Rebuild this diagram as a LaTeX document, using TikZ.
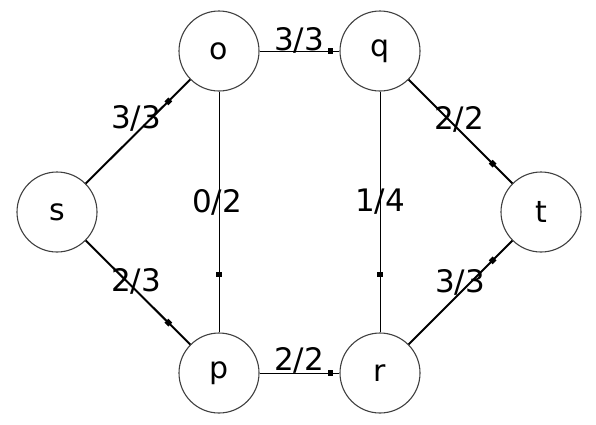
\documentclass[tikz,border=0pt]{standalone}
\usepackage{fontspec}
\setmainfont{DejaVu Sans}
\begin{document}
\begin{tikzpicture}[x=1pt,y=-1pt,
  vert/.style={circle,draw=black!75,line width=1.1pt,minimum size=80pt,inner sep=0pt,font=\fontsize{30}{33}\selectfont},
  thick edge/.style={line width=2pt},
  thin edge/.style={line width=0.9pt},
  lbl/.style={font=\fontsize{31}{34}\selectfont,inner sep=0pt},
  mk/.style={fill=black,inner sep=0pt,minimum size=5.5pt,rectangle,sloped}]
\useasboundingbox (0,0) rectangle (596,424);
\node[vert] (s) at (57,212) {s};
\node[vert] (o) at (219,51) {o};
\node[vert] (q) at (380,51) {q};
\node[vert] (t) at (541,212) {t};
\node[vert] (p) at (219,373) {p};
\node[vert] (r) at (380,373) {r};
\draw[thick edge] (s) -- node[mk,pos=0.79]{} (o);
\draw[thick edge] (s) -- node[mk,pos=0.79]{} (p);
\draw[thick edge] (q) -- node[mk,pos=0.81]{} (t);
\draw[thick edge] (r) -- node[mk,pos=0.81]{} (t);
\draw[thin edge] (o) -- node[mk,pos=0.89]{} (q);
\draw[thin edge] (p) -- node[mk,pos=0.89]{} (r);
\draw[thin edge] (o) -- node[mk,pos=0.76]{} (p);
\draw[thin edge] (q) -- node[mk,pos=0.76]{} (r);
\node[lbl] (l1) at (136,118) {3/3};
\node[lbl] (l2) at (136,281) {2/3};
\node[lbl] (l3) at (299,40) {3/3};
\node[lbl] (l4) at (299,360) {2/2};
\node[lbl] (l5) at (217,202) {0/2};
\node[lbl] (l6) at (380,202) {1/4};
\node[lbl] (l7) at (459,119) {2/2};
\node[lbl] (l8) at (460,282) {3/3};
\end{tikzpicture}
\end{document}
